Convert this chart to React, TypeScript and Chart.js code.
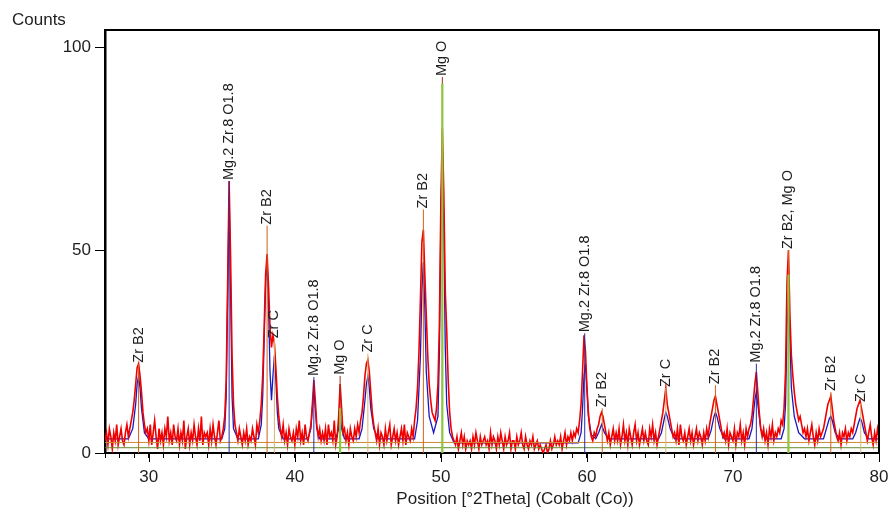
import { useEffect, useRef } from "react";
import { Chart, registerables } from "chart.js";

Chart.register(...registerables);

// ---- data ----
const xStart = 27;
const xStep = 0.1;

// observed counts, 27.0 .. 80.0 step 0.1 (one row per degree)
const redCounts = [
  3, 5, 2, 6, 4, 1, 5, 3, 7, 2, // 27
  4, 6, 3, 2, 5, 7, 4, 6, 8, 10, // 28
  13, 17, 21, 22, 19, 15, 10, 7, 5, 6, // 29
  3, 7, 2, 5, 8, 4, 1, 6, 3, 5, // 30
  2, 6, 4, 9, 3, 5, 2, 7, 4, 3, // 31
  6, 2, 5, 3, 8, 1, 4, 6, 2, 5, // 32
  3, 7, 4, 2, 6, 3, 9, 2, 5, 4, // 33
  5, 2, 6, 3, 7, 4, 2, 5, 8, 3, // 34
  4, 6, 9, 18, 42, 67, 48, 24, 12, 7, // 35
  5, 3, 6, 4, 2, 5, 3, 6, 2, 4, // 36
  3, 6, 4, 2, 7, 5, 8, 12, 19, 31, // 37
  44, 49, 41, 31, 26, 29, 27, 21, 14, 9, // 38
  6, 4, 7, 3, 5, 2, 6, 4, 3, 5, // 39
  2, 6, 4, 8, 3, 5, 2, 7, 4, 3, // 40
  5, 7, 12, 18, 13, 7, 4, 6, 3, 5, // 41
  3, 6, 2, 7, 4, 5, 3, 8, 2, 4, // 42
  9, 17, 11, 5, 6, 3, 5, 2, 6, 4, // 43
  3, 6, 4, 7, 5, 8, 10, 14, 19, 22, // 44
  23, 20, 15, 10, 7, 5, 3, 6, 2, 5, // 45
  4, 2, 6, 3, 5, 7, 2, 4, 6, 3, // 46
  5, 2, 4, 6, 3, 7, 2, 5, 4, 3, // 47
  6, 4, 8, 11, 16, 25, 38, 52, 55, 44, // 48
  34, 24, 17, 13, 10, 9, 8, 11, 17, 32, // 49
  62, 80, 64, 40, 30, 18, 10, 6, 4, 3, // 50
  2, 4, 1, 3, 5, 2, 4, 1, 3, 2, // 51
  3, 1, 4, 2, 5, 3, 1, 4, 2, 3, // 52
  4, 2, 3, 1, 5, 2, 4, 3, 1, 4, // 53
  2, 5, 3, 1, 4, 2, 3, 5, 1, 3, // 54
  3, 1, 4, 2, 3, 5, 2, 1, 4, 2, // 55
  1, 3, 2, 4, 1, 2, 3, 1, 2, 1, // 56
  0, 1, 2, 0, 1, 3, 1, 2, 4, 2, // 57
  3, 2, 4, 1, 3, 5, 2, 4, 3, 5, // 58
  3, 5, 4, 6, 5, 8, 12, 20, 29, 25, // 59
  16, 10, 6, 4, 3, 5, 4, 6, 7, 9, // 60
  10, 9, 7, 5, 3, 5, 2, 4, 6, 3, // 61
  5, 3, 6, 2, 4, 7, 3, 5, 2, 6, // 62
  4, 2, 5, 7, 3, 5, 2, 4, 6, 3, // 63
  5, 3, 2, 6, 4, 7, 3, 5, 2, 4, // 64
  6, 8, 10, 13, 16, 12, 10, 8, 6, 4, // 65
  5, 3, 6, 2, 7, 4, 3, 5, 2, 4, // 66
  6, 3, 5, 2, 4, 6, 3, 5, 4, 2, // 67
  5, 3, 6, 4, 7, 9, 11, 13, 14, 12, // 68
  10, 8, 6, 4, 5, 3, 6, 2, 5, 4, // 69
  3, 6, 2, 5, 4, 7, 3, 5, 2, 6, // 70
  4, 6, 7, 9, 13, 17, 20, 15, 10, 6, // 71
  4, 6, 3, 5, 2, 6, 4, 7, 3, 5, // 72
  4, 6, 5, 8, 7, 11, 20, 42, 50, 34, // 73
  24, 19, 15, 12, 10, 8, 9, 7, 5, 6, // 74
  4, 6, 3, 5, 7, 4, 2, 5, 3, 6, // 75
  4, 5, 6, 8, 10, 12, 13, 14, 11, 8, // 76
  6, 4, 3, 5, 2, 5, 4, 6, 3, 5, // 77
  4, 6, 5, 7, 9, 11, 12, 13, 11, 9, // 78
  7, 5, 3, 5, 7, 4, 2, 5, 3, 6, // 79
  4, // 80
];

// calculated profile (blue)
const blueX = [
  27, 28.6, 28.9, 29.1, 29.2, 29.3, 29.4, 29.5, 29.7, 30.0,
  35.0, 35.2, 35.3, 35.4, 35.5, 35.6, 35.7, 35.8, 36.1,
  37.5, 37.7, 37.8, 37.9, 38.0, 38.1, 38.2, 38.3, 38.4, 38.5, 38.6, 38.7, 38.8, 38.9, 39.2,
  40.9, 41.1, 41.2, 41.3, 41.4, 41.5, 41.7,
  42.8, 43.0, 43.1, 43.2, 43.4,
  44.4, 44.6, 44.8, 44.9, 45.0, 45.1, 45.2, 45.4, 45.7,
  48.2, 48.4, 48.6, 48.7, 48.8, 48.9, 49.0, 49.2, 49.5, 49.8, 49.9, 50.0, 50.1, 50.2, 50.3, 50.4, 50.6, 50.9,
  59.0, 59.4, 59.6, 59.7, 59.8, 59.9, 60.0, 60.1, 60.3, 60.6,
  60.8, 61.0, 61.2, 61.5,
  64.9, 65.1, 65.3, 65.4, 65.5, 65.7, 66.0,
  68.3, 68.5, 68.7, 68.8, 68.9, 69.1, 69.4,
  71.1, 71.3, 71.5, 71.6, 71.7, 71.9, 72.2,
  73.3, 73.5, 73.6, 73.7, 73.8, 73.9, 74.0, 74.2, 74.5, 74.9,
  76.2, 76.4, 76.6, 76.7, 76.8, 77.0, 77.3,
  78.2, 78.4, 78.6, 78.7, 78.8, 79.0, 79.3,
  80,
];
const blueY = [
  3.5, 3.5, 6, 12, 17, 19, 16, 11, 5, 3.5,
  3.5, 6, 14, 40, 64, 40, 14, 6, 3.5,
  3.5, 7, 14, 28, 42, 47, 36, 20, 13, 19, 24, 18, 10, 6, 3.5,
  3.5, 6, 11, 16, 11, 6, 3.5,
  3.5, 6, 10, 6, 3.5,
  3.5, 6, 13, 17, 19, 16, 11, 6, 3.5,
  3.5, 8, 24, 40, 47, 36, 20, 9, 5, 9, 25, 58, 75, 55, 26, 12, 5, 2.5,
  2.5, 2.5, 5, 11, 19, 22, 16, 9, 4.5, 3.5,
  5, 7, 5, 3.5,
  3.5, 5, 8.5, 10, 9, 6, 3.5,
  3.5, 5.5, 9, 10, 9, 6, 3.5,
  3.5, 6, 13, 15, 12, 6, 3.5,
  3.5, 6, 12, 30, 40, 28, 16, 9, 5, 3.5,
  3.5, 6, 8.5, 9, 8, 5, 3.5,
  3.5, 5, 7.5, 8.5, 8, 5, 3.5,
  3.5,
];

// background lines
const bgX = [27, 80];
const bgOrangeY = [2.6, 2.6];
const bgGreenY = [1.3, 1.3];

// phase reference peaks and labels
const peakPos = [29.3, 35.5, 38.1, 38.6, 41.3, 43.1, 45.0, 48.8, 50.1, 59.85, 61.05, 65.4, 68.8, 71.6, 73.8, 76.7, 78.75];
const peakLabel = [
  "Zr B2", "Mg.2 Zr.8 O1.8", "Zr B2", "Zr C", "Mg.2 Zr.8 O1.8", "Mg O", "Zr C", "Zr B2", "Mg O",
  "Mg.2 Zr.8 O1.8", "Zr B2", "Zr C", "Zr B2", "Mg.2 Zr.8 O1.8", "Zr B2, Mg O", "Zr B2", "Zr C",
];
const peakLabelAt = [22, 67, 56, 28, 18.7, 19, 24.5, 60, 92.6, 29.5, 11, 16, 16.7, 22, 50, 15, 12.3];
const peakPhase = [
  "ZrB2", "MgZrO", "ZrB2", "ZrC", "MgZrO", "MgO", "ZrC", "ZrB2", "MgO",
  "MgZrO", "ZrB2", "ZrC", "ZrB2", "MgZrO", "ZrB2", "ZrB2", "ZrC",
];
const mgoStickPos = [43.1, 50.1, 73.8];
const mgoStickTop = [11, 91, 44];

const xTickMajor = [30, 40, 50, 60, 70, 80];

const phaseColor: Record<string, string> = {
  ZrB2: "#d2601a",
  MgZrO: "#2a2aa8",
  ZrC: "#d9b56a",
  MgO: "#9a3020",
};

const FONT = "'Liberation Sans', Arial, sans-serif";

function sticks(positions: number[], tops: number[]) {
  const pts: { x: number; y: number | null }[] = [];
  positions.forEach((p, i) => {
    pts.push({ x: p, y: 0 });
    pts.push({ x: p, y: tops[i] });
    pts.push({ x: p, y: null });
  });
  return pts;
}

export default function App() {
  const ref = useRef<HTMLCanvasElement | null>(null);

  useEffect(() => {
    document.body.style.margin = "0";
    const canvas = ref.current;
    if (!canvas) return;

    const redData = redCounts.map((y, i) => ({ x: Math.round((xStart + i * xStep) * 10) / 10, y }));
    const blueData = blueX.map((x, i) => ({ x, y: blueY[i] }));

    const phases = ["ZrB2", "MgZrO", "ZrC", "MgO"];
    const stickSets = phases.map((ph) => {
      const pos: number[] = [];
      const top: number[] = [];
      peakPos.forEach((p, i) => {
        if (peakPhase[i] === ph) {
          pos.push(p);
          top.push(peakLabelAt[i]);
        }
      });
      return {
        label: "stick-" + ph,
        data: sticks(pos, top),
        borderColor: phaseColor[ph],
        borderWidth: 1,
        pointRadius: 0,
        spanGaps: false,
        order: 2,
      };
    });

    const framePlugin = {
      id: "frame",
      afterDatasetsDraw(chart: any) {
        const { ctx, scales } = chart;
        const xs = scales.x;
        const ys = scales.y;
        ctx.save();
        ctx.fillStyle = "#1e1e1e";
        ctx.font = `14.5px ${FONT}`;
        ctx.textAlign = "left";
        ctx.textBaseline = "middle";
        peakPos.forEach((p, i) => {
          const px = xs.getPixelForValue(p);
          const py = ys.getPixelForValue(peakLabelAt[i]);
          ctx.save();
          ctx.translate(px, py - 1);
          ctx.rotate(-Math.PI / 2);
          ctx.fillText(peakLabel[i], 0, 0);
          ctx.restore();
        });
        ctx.restore();
      },
      afterDraw(chart: any) {
        const { ctx, chartArea, scales } = chart;
        const xs = scales.x;
        ctx.save();
        ctx.strokeStyle = "#000";
        ctx.lineWidth = 2;
        ctx.beginPath();
        ctx.moveTo(chartArea.left, chartArea.top);
        ctx.lineTo(chartArea.right, chartArea.top);
        ctx.lineTo(chartArea.right, chartArea.bottom);
        ctx.stroke();
        ctx.lineWidth = 1;
        xTickMajor.forEach((v) => {
          const px = Math.round(xs.getPixelForValue(v)) + 0.5;
          ctx.beginPath();
          ctx.moveTo(px, chartArea.bottom);
          ctx.lineTo(px, chartArea.bottom + 9);
          ctx.stroke();
        });
        ctx.fillStyle = "#1e1e1e";
        ctx.font = `17px ${FONT}`;
        ctx.textBaseline = "middle";
        ctx.textAlign = "left";
        ctx.fillText("Counts", 12, 20);
        ctx.textAlign = "center";
        ctx.fillText("Position [°2Theta] (Cobalt (Co))", 515, 499);
        ctx.restore();
      },
    };

    const chart = new Chart(canvas, {
      type: "line",
      data: {
        datasets: [
          {
            label: "observed",
            data: redData,
            borderColor: "#f00000",
            borderWidth: 1.6,
            pointRadius: 0,
            order: 5,
          },
          {
            label: "calc",
            data: blueData,
            borderColor: "#1818c0",
            borderWidth: 1.3,
            pointRadius: 0,
            order: 6,
          },
          {
            label: "bg-orange",
            data: bgX.map((x, i) => ({ x, y: bgOrangeY[i] })),
            borderColor: "#d08a30",
            borderWidth: 1,
            pointRadius: 0,
            order: 4,
          },
          {
            label: "bg-green",
            data: bgX.map((x, i) => ({ x, y: bgGreenY[i] })),
            borderColor: "#5f8a2a",
            borderWidth: 1,
            pointRadius: 0,
            order: 4,
          },
          ...stickSets,
          {
            label: "MgO-ref",
            data: sticks(mgoStickPos, mgoStickTop),
            borderColor: "#8cc83c",
            borderWidth: 2.2,
            pointRadius: 0,
            spanGaps: false,
            order: 1,
          },
        ] as any,
      },
      options: {
        responsive: false,
        animation: false,
        events: [],
        layout: { padding: { top: 30, right: 9, left: 0, bottom: 0 } },
        plugins: { legend: { display: false }, tooltip: { enabled: false }, title: { display: false } },
        elements: { point: { radius: 0 }, line: { tension: 0 } },
        scales: {
          x: {
            type: "linear",
            min: 27,
            max: 80,
            ticks: {
              stepSize: 1,
              autoSkip: false,
              maxRotation: 0,
              minRotation: 0,
              padding: 9,
              color: "#1e1e1e",
              font: { family: FONT, size: 17 },
              callback: (v: any) => (Number(v) % 10 === 0 ? String(v) : ""),
            },
            grid: { drawOnChartArea: false, tickLength: 5, color: "#000", tickWidth: 1 },
            border: { display: true, color: "#000", width: 2 },
            afterFit: (axis: any) => {
              axis.height = 60;
              axis.paddingLeft = 0;
              axis.paddingRight = 0;
            },
          },
          y: {
            type: "linear",
            min: 0,
            max: 104.2,
            ticks: {
              stepSize: 50,
              includeBounds: false,
              padding: 4,
              color: "#1e1e1e",
              font: { family: FONT, size: 17 },
            },
            afterBuildTicks: (axis: any) => {
              axis.ticks = axis.ticks.filter((t: any) => t.value % 50 === 0);
            },
            grid: { drawOnChartArea: false, tickLength: 10, color: "#000", tickWidth: 1 },
            border: { display: true, color: "#000", width: 2.5 },
            afterFit: (axis: any) => {
              axis.width = 105;
              axis.paddingTop = 0;
              axis.paddingBottom = 0;
            },
          },
        },
      } as any,
      plugins: [framePlugin],
    });

    return () => chart.destroy();
  }, []);

  return (
    <div style={{ width: 888, height: 513, background: "#fff" }}>
      <canvas ref={ref} width={888} height={513} style={{ display: "block" }} />
    </div>
  );
}
